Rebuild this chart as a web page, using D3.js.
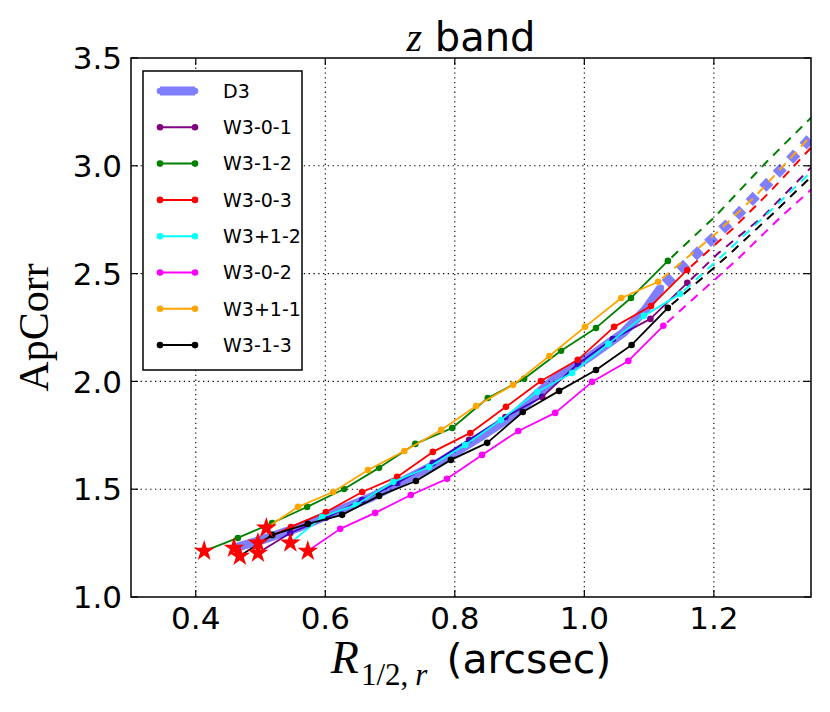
<!DOCTYPE html>
<html>
<head>
<meta charset="utf-8">
<script src="https://cdn.jsdelivr.net/npm/d3@7"></script>
<style>
  body { margin: 0; background: #fff; }
</style>
</head>
<body>
<script>
// ---- data ----
var xTicks = [0.4, 0.6, 0.8, 1.0, 1.2];
var yTicks = [1.0, 1.5, 2.0, 2.5, 3.0, 3.5];

var seriesNames = ["D3", "W3-0-1", "W3-1-2", "W3-0-3", "W3+1-2", "W3-0-2", "W3+1-1", "W3-1-3"];

// R_{1/2,r} (arcsec) and ApCorr per series; first point is the starred one
var rD3 = [0.459, 0.502, 0.561, 0.623, 0.672, 0.723, 0.777, 0.839, 0.893, 0.952, 1.010, 1.060, 1.094, 1.118];
var apD3 = [1.227, 1.265, 1.325, 1.404, 1.464, 1.543, 1.626, 1.742, 1.849, 2.007, 2.118, 2.225, 2.332, 2.434];

var rW301 = [0.496, 0.546, 0.601, 0.657, 0.711, 0.766, 0.822, 0.878, 0.935, 0.990, 1.044, 1.102, 1.159];
var apW301 = [1.204, 1.297, 1.367, 1.450, 1.529, 1.622, 1.729, 1.835, 1.928, 2.081, 2.197, 2.290, 2.457];

var rW312 = [0.413, 0.465, 0.518, 0.572, 0.629, 0.683, 0.739, 0.796, 0.851, 0.907, 0.964, 1.018, 1.072, 1.129];
var apW312 = [1.213, 1.274, 1.343, 1.418, 1.501, 1.599, 1.710, 1.784, 1.923, 2.012, 2.142, 2.248, 2.387, 2.559];

var rW303 = [0.496, 0.547, 0.601, 0.657, 0.711, 0.766, 0.824, 0.879, 0.933, 0.990, 1.046, 1.103, 1.159];
var apW303 = [1.251, 1.325, 1.394, 1.487, 1.557, 1.673, 1.761, 1.882, 2.002, 2.100, 2.253, 2.350, 2.517];

var rW3p12 = [0.546, 0.595, 0.647, 0.705, 0.760, 0.816, 0.871, 0.927, 0.981, 1.037, 1.092, 1.148];
var apW3p12 = [1.251, 1.371, 1.427, 1.534, 1.603, 1.705, 1.821, 1.951, 2.039, 2.174, 2.304, 2.406];

var rW302 = [0.573, 0.623, 0.677, 0.732, 0.788, 0.842, 0.898, 0.955, 1.012, 1.068, 1.122];
var apW302 = [1.213, 1.316, 1.390, 1.473, 1.548, 1.659, 1.770, 1.854, 1.998, 2.095, 2.258];

var rW3p11 = [0.509, 0.558, 0.612, 0.666, 0.722, 0.779, 0.833, 0.890, 0.946, 1.001, 1.057, 1.114];
var apW3p11 = [1.320, 1.418, 1.487, 1.589, 1.677, 1.775, 1.886, 1.984, 2.118, 2.253, 2.387, 2.462];

var rW313 = [0.468, 0.518, 0.573, 0.626, 0.683, 0.740, 0.794, 0.850, 0.905, 0.961, 1.018, 1.073, 1.129];
var apW313 = [1.190, 1.288, 1.339, 1.381, 1.469, 1.538, 1.636, 1.715, 1.858, 1.956, 2.053, 2.169, 2.341];

// dashed extrapolations
var rD3Ext = [1.118, 1.233, 1.318, 1.35];
var apD3Ext = [2.434, 2.762, 3.028, 3.130];
var rW301Ext = [1.159, 1.207, 1.276, 1.35];
var apW301Ext = [2.457, 2.595, 2.765, 2.992];
var rW312Ext = [1.129, 1.202, 1.282, 1.35];
var apW312Ext = [2.559, 2.765, 3.020, 3.223];
var rW303Ext = [1.159, 1.230, 1.287, 1.35];
var apW303Ext = [2.517, 2.710, 2.881, 3.084];
var rW3p12Ext = [1.148, 1.220, 1.292, 1.35];
var apW3p12Ext = [2.406, 2.602, 2.804, 2.972];
var rW302Ext = [1.122, 1.237, 1.302, 1.35];
var apW302Ext = [2.258, 2.568, 2.759, 2.889];
var rW3p11Ext = [1.114, 1.204, 1.266, 1.35];
var apW3p11Ext = [2.462, 2.688, 2.865, 3.139];
var rW313Ext = [1.129, 1.220, 1.292, 1.35];
var apW313Ext = [2.341, 2.579, 2.780, 2.949];

// ---- styles ----
var colors = {
  "D3": "blue", "W3-0-1": "purple", "W3-1-2": "green", "W3-0-3": "red",
  "W3+1-2": "cyan", "W3-0-2": "magenta", "W3+1-1": "orange", "W3-1-3": "black"
};
var sans = "'DejaVu Sans', sans-serif";
var serif = "'Liberation Serif', 'DejaVu Serif', serif";

function zip(xs, ys) { return xs.map(function (x, i) { return { x: x, y: ys[i] }; }); }

var series = [
  { name: "D3", pts: zip(rD3, apD3), ext: zip(rD3Ext, apD3Ext) },
  { name: "W3-0-1", pts: zip(rW301, apW301), ext: zip(rW301Ext, apW301Ext) },
  { name: "W3-1-2", pts: zip(rW312, apW312), ext: zip(rW312Ext, apW312Ext) },
  { name: "W3-0-3", pts: zip(rW303, apW303), ext: zip(rW303Ext, apW303Ext) },
  { name: "W3+1-2", pts: zip(rW3p12, apW3p12), ext: zip(rW3p12Ext, apW3p12Ext) },
  { name: "W3-0-2", pts: zip(rW302, apW302), ext: zip(rW302Ext, apW302Ext) },
  { name: "W3+1-1", pts: zip(rW3p11, apW3p11), ext: zip(rW3p11Ext, apW3p11Ext) },
  { name: "W3-1-3", pts: zip(rW313, apW313), ext: zip(rW313Ext, apW313Ext) }
];
// band goes above purple, the rest on top
var drawOrder = ["W3-0-1", "D3", "W3-1-2", "W3-0-3", "W3+1-2", "W3-0-2", "W3+1-1", "W3-1-3"];

var margin = { top: 58, right: 19, bottom: 115, left: 131 },
    width = 830 - margin.left - margin.right,
    height = 712 - margin.top - margin.bottom;

var svgRoot = d3.select("body").append("svg")
    .attr("width", 830)
    .attr("height", 712)
    .style("font-family", sans);

var svg = svgRoot.append("g")
    .attr("transform", "translate(" + margin.left + "," + margin.top + ")");

var x = d3.scaleLinear().domain([0.3, 1.35]).range([0, width]);
var y = d3.scaleLinear().domain([1.0, 3.5]).range([height, 0]);

svg.append("clipPath").attr("id", "clip")
    .append("rect").attr("width", width).attr("height", height);

// grid
svg.append("g").selectAll("line").data(xTicks).enter().append("line")
    .attr("x1", d => x(d)).attr("x2", d => x(d))
    .attr("y1", 0).attr("y2", height)
    .attr("stroke", "#000").attr("stroke-width", 1.1)
    .attr("stroke-dasharray", "1.3,3.5");
svg.append("g").selectAll("line").data(yTicks.slice(1, -1)).enter().append("line")
    .attr("y1", d => y(d)).attr("y2", d => y(d))
    .attr("x1", 0).attr("x2", width)
    .attr("stroke", "#000").attr("stroke-width", 1.1)
    .attr("stroke-dasharray", "1.3,3.5");

var line = d3.line().x(d => x(d.x)).y(d => y(d.y));
var plot = svg.append("g").attr("clip-path", "url(#clip)");

drawOrder.forEach(function (name) {
  var s = series.find(d => d.name === name);
  var c = colors[name];
  var isBand = name === "D3";
  var g = plot.append("g").attr("opacity", isBand ? 0.5 : 1);
  g.append("path").datum(s.ext)
      .attr("d", line).attr("fill", "none").attr("stroke", c)
      .attr("stroke-width", isBand ? 10 : 2)
      .attr("stroke-dasharray", isBand ? "10,9.5" : "9,7")
      .attr("stroke-dashoffset", isBand ? -6 : -5);
  g.append("path").datum(s.pts)
      .attr("d", line).attr("fill", "none").attr("stroke", c)
      .attr("stroke-width", isBand ? 9 : 1.8)
      .attr("stroke-linejoin", "round");
  g.selectAll("circle").data(s.pts.slice(1)).enter().append("circle")
      .attr("cx", d => x(d.x)).attr("cy", d => y(d.y))
      .attr("r", 3.3).attr("fill", c);
});

// red stars at the first point of each series
plot.append("g").selectAll("path").data(series).enter().append("path")
    .attr("transform", d => "translate(" + x(d.pts[0].x) + "," + y(d.pts[0].y) + ")")
    .attr("d", d3.symbol().type(d3.symbolStar).size(135))
    .attr("fill", "red");

// frame and inward ticks
svg.append("rect").attr("width", width).attr("height", height)
    .attr("fill", "none").attr("stroke", "#000").attr("stroke-width", 1.5);

var tickLen = 7;
xTicks.forEach(function (t) {
  svg.append("line").attr("x1", x(t)).attr("x2", x(t)).attr("y1", height).attr("y2", height - tickLen)
      .attr("stroke", "#000").attr("stroke-width", 1.2);
  svg.append("line").attr("x1", x(t)).attr("x2", x(t)).attr("y1", 0).attr("y2", tickLen)
      .attr("stroke", "#000").attr("stroke-width", 1.2);
  svg.append("text").attr("x", x(t)).attr("y", height + 32)
      .attr("text-anchor", "middle").attr("font-size", 31).text(t.toFixed(1));
});
yTicks.forEach(function (t) {
  svg.append("line").attr("y1", y(t)).attr("y2", y(t)).attr("x1", 0).attr("x2", tickLen)
      .attr("stroke", "#000").attr("stroke-width", 1.2);
  svg.append("line").attr("y1", y(t)).attr("y2", y(t)).attr("x1", width).attr("x2", width - tickLen)
      .attr("stroke", "#000").attr("stroke-width", 1.2);
  svg.append("text").attr("x", -9).attr("y", y(t)).attr("dy", "0.36em")
      .attr("text-anchor", "end").attr("font-size", 31).text(t.toFixed(1));
});

// title
var title = svgRoot.append("text").attr("x", margin.left + width / 2).attr("y", 51)
    .attr("text-anchor", "middle").attr("font-size", 40);
title.append("tspan").style("font-family", serif).style("font-style", "italic").text("z");
title.append("tspan").text(" band");

// x label
var xl = svgRoot.append("text").attr("x", margin.left + width / 2).attr("y", 673)
    .attr("text-anchor", "middle").attr("font-size", 41);
xl.append("tspan").style("font-family", serif).style("font-style", "italic")
    .attr("font-size", 46).text("R");
xl.append("tspan").style("font-family", serif).attr("font-size", 31)
    .attr("dy", 12).attr("dx", 2).text("1/2,");
xl.append("tspan").style("font-family", serif).style("font-style", "italic")
    .attr("font-size", 31).attr("dx", 7).text("r");
xl.append("tspan").attr("dy", -12).attr("dx", 6).text("\u00a0(arcsec)");

// y label
svgRoot.append("text")
    .attr("transform", "translate(48," + (margin.top + height / 2) + ") rotate(-90)")
    .attr("text-anchor", "middle")
    .style("font-family", serif).attr("font-size", 42)
    .text("ApCorr");

// legend
var lg = svgRoot.append("g").attr("transform", "translate(143,71)");
lg.append("rect").attr("width", 159).attr("height", 299)
    .attr("fill", "#fff").attr("stroke", "#000").attr("stroke-width", 1.5);
seriesNames.forEach(function (name, i) {
  var cy = 20 + i * 36.3;
  var c = colors[name];
  var isBand = name === "D3";
  var row = lg.append("g").attr("opacity", isBand ? 0.5 : 1);
  row.append("line").attr("x1", 17).attr("x2", 52).attr("y1", cy).attr("y2", cy)
      .attr("stroke", c).attr("stroke-width", isBand ? 9 : 2);
  [17, 52].forEach(function (cx) {
    row.append("circle").attr("cx", cx).attr("cy", cy).attr("r", 3.3).attr("fill", c);
  });
  lg.append("text").attr("x", 80).attr("y", cy).attr("dy", "0.36em")
      .attr("font-size", 19).text(name);
});
</script>
</body>
</html>
